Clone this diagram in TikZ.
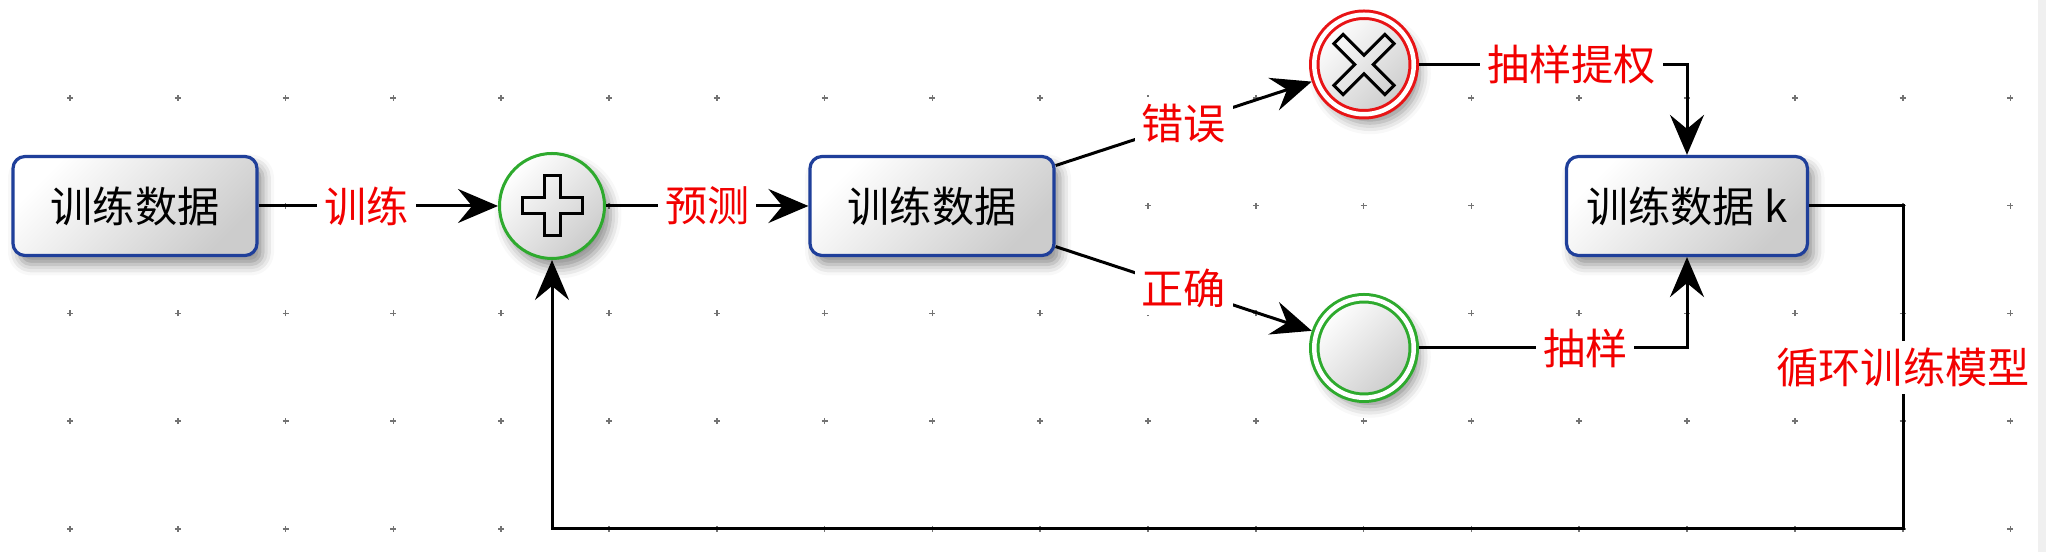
\documentclass[tikz,border=0pt]{standalone}
\usepackage{fontspec}
\setmainfont{Noto Sans CJK SC}
\usetikzlibrary{arrows.meta}
\usetikzlibrary{shadows.blur}

\definecolor{boxblue}{HTML}{1F3F9A}
\definecolor{evgreen}{HTML}{2EAA2E}
\definecolor{evred}{HTML}{E81416}
\definecolor{lblred}{HTML}{F20000}

\tikzset{
  shapefill/.style={top color=white, bottom color=black!20, shading angle=45,
    blur shadow={shadow xshift=0.6mm, shadow yshift=-0.9mm, shadow blur radius=1.1mm, shadow opacity=45}},
  databox/.style={shapefill, draw=boxblue, line width=0.032cm, rounded corners=0.12cm,
    minimum width=2.44cm, minimum height=0.99cm, inner sep=0pt},
  gateway/.style={shapefill, circle, draw=evgreen, line width=0.03cm, minimum size=1.05cm, inner sep=0pt},
  endevent/.style={shapefill, circle, draw=#1, line width=0.03cm, double=white,
    double distance=0.045cm, minimum size=0.995cm, inner sep=0pt, outer sep=0.0525cm},
  flow/.style={draw=black, line width=0.03cm, -{Stealth[length=4mm,width=3.4mm,inset=1.4mm]}},
  lbl/.style={fill=white, text=lblred, inner sep=0.07cm},
  symline/.style={draw=black, line width=0.03cm, line join=miter},
  griddot/.style={draw=black!55, line width=0.5pt}
}

\begin{document}
\begin{tikzpicture}[font=\fontsize{12pt}{14pt}\selectfont]
  \newcommand{\gridsp}{1.078}
  \newcommand\crosspath[2]{(-#1,#2) -- (#1,#2) -- (#1,#1) -- (#2,#1) -- (#2,-#1) -- (#1,-#1) -- (#1,-#2) -- (-#1,-#2) -- (-#1,-#1) -- (-#2,-#1) -- (-#2,#1) -- (-#1,#1) -- cycle}
  \useasboundingbox (0,0) rectangle (20.46,5.52);
  \fill[black!6] (20.38,0) rectangle (20.46,5.52);

% background grid
  \foreach \i in {0,...,18}{
    \foreach \j in {0,...,4}{
      \draw[griddot] ({0.70+\i*\gridsp},{0.23+\j*\gridsp}) +(-0.03,0) -- +(0.03,0) +(0,-0.03) -- +(0,0.03);
    }
  }

% tasks and events
  \node[databox] (d1) at (1.35,3.46) {训练数据};
  \node[gateway] (plus) at (5.52,3.46) {};
  \node[databox] (d2) at (9.32,3.46) {训练数据};
  \node[endevent=evred] (xev) at (13.64,4.875) {};
  \node[endevent=evgreen] (okev) at (13.64,2.04) {};
  \node[databox, minimum width=2.41cm] (dk) at (16.87,3.46) {训练数据 k};

% markers inside the events
  \draw[symline, shift={(plus.center)}] \crosspath{0.08}{0.30};
  \draw[symline, shift={(xev.center)}, rotate=45] \crosspath{0.065}{0.36};

% sequence flows
  \draw[flow] (d1) -- node[lbl, pos=.45] {训练} (plus);
  \draw[flow] (plus) -- node[lbl] {预测} (d2);
  \draw[flow] (d2) -- node[lbl] {错误} (xev);
  \draw[flow] (d2) -- node[lbl] {正确} (okev);
  \draw[flow] (xev) -| node[lbl, pos=.285] {抽样提权} (dk);
  \draw[flow] (okev) -| node[lbl, pos=.31] {抽样} (dk);

% loop back to the gateway
  \coordinate (loopne) at (19.03,3.46);
  \coordinate (loopsw) at (5.52,0.23);
  \draw[flow] (dk) -- (loopne) -- node[lbl] {循环训练模型} (loopne |- loopsw) -- (loopsw) -- (plus);
\end{tikzpicture}
\end{document}
